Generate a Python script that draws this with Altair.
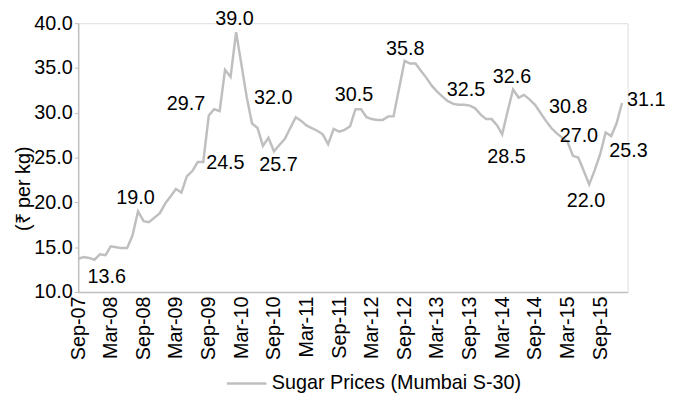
import altair as alt
import pandas as pd

FONT = "Liberation Sans, Arial, Helvetica, sans-serif"

start_month = "2007-09-01"
end_month = "2016-02-01"
series_name = "Sugar Prices (Mumbai S-30)"
prices = [
    13.7, 13.9, 13.8, 13.6, 14.2, 14.1, 15.1, 15.0, 14.9, 14.9,
    16.3, 19.0, 17.9, 17.8, 18.3, 18.8, 19.9, 20.7, 21.5, 21.1,
    22.9, 23.5, 24.5, 24.5, 29.7, 30.4, 30.2, 34.8, 34.0, 39.0,
    35.6, 31.8, 28.8, 28.3, 26.3, 27.2, 25.7, 26.4, 27.1, 28.3,
    29.5, 29.1, 28.6, 28.3, 28.0, 27.6, 26.5, 28.2, 27.9, 28.1,
    28.5, 30.4, 30.4, 29.5, 29.3, 29.2, 29.2, 29.6, 29.6, 32.7,
    35.8, 35.5, 35.5, 34.7, 33.9, 33.0, 32.4, 31.8, 31.3, 31.0,
    30.9, 30.9, 30.8, 30.5, 29.8, 29.3, 29.3, 28.6, 27.6, 30.2,
    32.6, 31.7, 32.0, 31.5, 30.9, 30.0, 29.1, 28.3, 27.7, 27.2,
    26.8, 25.2, 25.0, 23.5, 22.0, 23.6, 25.4, 27.8, 27.4, 28.8,
    31.1,
]

label_dates = [
    "2007-12-01", "2008-08-01", "2009-09-01", "2009-08-01", "2010-02-01",
    "2010-04-01", "2010-09-01", "2011-12-01", "2012-09-01", "2013-03-01",
    "2014-05-01", "2014-03-01", "2014-09-01", "2015-02-01", "2015-07-01",
    "2015-09-01", "2016-01-01",
]
label_values = [13.6, 19.0, 29.7, 24.5, 39.0, 32.0, 25.7, 30.5, 35.8, 32.5,
                32.6, 28.5, 30.8, 27.0, 22.0, 25.3, 31.1]
# label offsets (style)
label_dx = [12.5, -2.6, -23, 22.4, -1.6, 27, 4.5, -1.5, 0.7, 29.4,
            -1.1, 4.3, 33.6, 16.7, -3.2, 28.5, 24.5]
label_dy = [17.6, -13.4, -11.4, 1.5, -13, 3.2, 14.3, -13.8, -12.4, -0.7,
            -12.1, 30.7, 1.6, -3.9, 16.8, -4.3, -3.4]

tick_dates = [
    "2007-09-01", "2008-03-01", "2008-09-01", "2009-03-01", "2009-09-01",
    "2010-03-01", "2010-09-01", "2011-03-01", "2011-09-01", "2012-03-01",
    "2012-09-01", "2013-03-01", "2013-09-01", "2014-03-01", "2014-09-01",
    "2015-03-01", "2015-09-01",
]
y_ticks = [10, 15, 20, 25, 30, 35, 40]


def to_ms(s):
    return int(pd.Timestamp(s, tz="UTC").value // 10**6)


dates = pd.date_range(start_month, periods=len(prices), freq="MS").strftime("%Y-%m-%d")
df = pd.DataFrame({"t": [to_ms(d) for d in dates], "price": prices, "series": series_name})

x_scale = alt.Scale(domain=[to_ms(start_month), to_ms(end_month)], nice=False, zero=False)
y_scale = alt.Scale(domain=[10, 40], nice=False, zero=False)

x_axis = alt.Axis(
    values=[to_ms(t) for t in tick_dates],
    labelExpr="utcFormat(datum.value, '%b-%y')",
    labelAngle=270, labelAlign="right",
    labelBaseline="middle", ticks=False, labelPadding=4, title=None, grid=False,
    domainColor="#BFBFBF", domainWidth=1.5, labelOverlap=False, labelFlush=False,
    labelBound=False, labelSeparation=0,
    labelFont=FONT, labelFontSize=20, labelColor="#000000",
)
y_axis = alt.Axis(
    values=y_ticks, format=".1f", title="(₹ per kg)", titleX=-49, titleY=167,
    titleAngle=270, titleAlign="center", titleBaseline="alphabetic",
    titleFont=FONT, titleFontSize=20, titleFontWeight="normal", titleColor="#000000",
    labelFont=FONT, labelFontSize=20, labelColor="#000000", labelPadding=2,
    labelOverlap=False,
    tickSize=4, tickColor="#BFBFBF", domainColor="#BFBFBF", domainWidth=1.5, grid=False,
)

line = alt.Chart(df).mark_line(strokeWidth=2.5).encode(
    color=alt.Color(
        "series:N",
        scale=alt.Scale(range=["#BFBFBF"]),
        legend=alt.Legend(
            title=None, orient="none", legendX=149, legendY=343, padding=0,
            symbolType="stroke", symbolSize=1600, symbolStrokeWidth=2.5,
            labelFont=FONT, labelFontSize=20, labelColor="#000000", labelLimit=400,
        ),
    ),
)

layers = [line]
for d, v, dx, dy in zip(label_dates, label_values, label_dx, label_dy):
    ldf = pd.DataFrame({"t": [to_ms(d)], "price": [v], "text": [f"{v:.1f}"]})
    layers.append(
        alt.Chart(ldf).mark_text(
            dx=dx, dy=dy, font=FONT, fontSize=20, color="#000000",
            align="center", baseline="middle",
        ).encode(text="text:N")
    )

chart = alt.layer(*layers).encode(
    x=alt.X("t:Q", scale=x_scale, axis=x_axis),
    y=alt.Y("price:Q", scale=y_scale, axis=y_axis),
).properties(
    width=556, height=272,
    padding={"left": 71, "top": 13, "right": 51, "bottom": 115},
    autosize=alt.AutoSizeParams(type="none"),
).configure_view(stroke=None).configure_axis(labelOverlap=False).configure(background="white")

chart.save("out.html", embed_options={"renderer": "svg", "actions": False})
